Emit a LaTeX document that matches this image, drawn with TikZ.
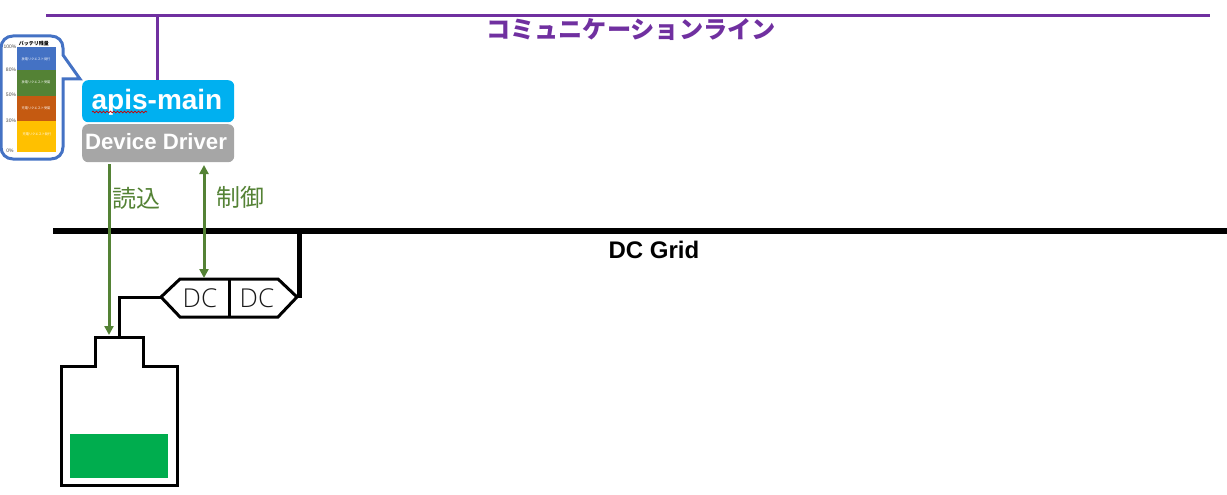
\documentclass[tikz,border=0pt]{standalone}
\usepackage{fontspec}
\setmainfont{Liberation Sans}
\newfontfamily\cjk{Noto Sans CJK JP}
\newfontfamily\thin{Open Sans Light}
\usetikzlibrary{arrows.meta,decorations.pathmorphing}
\definecolor{purp}{HTML}{7030A0}
\definecolor{grn}{HTML}{548235}
\definecolor{sky}{HTML}{00B0F0}
\definecolor{gry}{HTML}{A6A6A6}
\definecolor{bat}{HTML}{00AD4E}
\definecolor{callout}{HTML}{4472C4}
\definecolor{sorange}{HTML}{C55A11}
\definecolor{syellow}{HTML}{FFC000}
\tikzset{
  x=1pt,y=-1pt,
  wire/.style={draw=black,line width=3pt,line join=miter},
  sigline/.style={draw=grn,line width=3pt},
  bar/.style={fill=#1,draw=none},
  barlabel/.style={inner sep=0pt,text=white,font=\fontsize{3.2}{3.2}\selectfont\cjk},
  tick/.style={inner sep=0pt,text=black!70,font=\fontsize{5}{5}\selectfont},
  boxn/.style={draw=none,rounded corners=6pt,minimum width=152pt,inner sep=0pt,text=white,font=\bfseries},
  tip/.style={-{Triangle[width=9pt,length=9pt]}},
}
\begin{document}
\begin{tikzpicture}
\useasboundingbox (0,0) rectangle (1227,495);
% communication line
\coordinate (cl) at (46,15.5);
\coordinate (cr) at (1210,15.5);
\coordinate (cj) at (157,15.5);
\draw[draw=purp,line width=3pt] (cl) -- (cr);
\node[inner sep=0pt,text=purp,font=\fontsize{24.2}{24.2}\selectfont\cjk\bfseries] (clabel) at (631,29.5) {コミュニケーションライン};
% boxes
\node[boxn,fill=sky,minimum height=42pt,anchor=north west] (main) at (82,80) {};
\node[text=white,inner sep=0pt,font=\fontsize{28}{28}\selectfont\bfseries] (maint) at (157,102) {apis-main};
\node[boxn,fill=gry,minimum height=38pt,anchor=north west] (drv) at (82,124) {};
\node[text=white,inner sep=0pt,font=\fontsize{22.2}{22.2}\selectfont\bfseries] (drvt) at (156,142) {Device Driver};
\draw[draw=purp,line width=3pt] (cj) -- (main.north -| cj);
\draw[red!80!black,line width=0.7pt,decorate,decoration={snake,amplitude=0.9pt,segment length=3.5pt}] (92,112) -- (147,112);
% callout
\draw[draw=callout,line width=3pt,fill=white,line join=miter]
  (63,55) -- (80,79) -- (63,79) -- (63,147) .. controls (63,154) and (58,159) .. (51,159) -- (13,159) .. controls (6,159) and (1,154) .. (1,147) -- (1,48) .. controls (1,41) and (6,36) .. (13,36) -- (51,36) .. controls (58,36) and (63,41) .. (63,48) -- cycle;
\fill[bar=callout] (17,47) rectangle (56,70);
\fill[bar=grn] (17,70) rectangle (56,96);
\fill[bar=sorange] (17,96) rectangle (56,121);
\fill[bar=syellow] (17,121) rectangle (56,152);
\node[inner sep=0pt,font=\fontsize{5}{5}\selectfont\cjk\bfseries] (battitle) at (34,44) {バッテリ残量};
\node[barlabel] (b1) at (36,59) {放電リクエスト発行};
\node[barlabel] (b2) at (36,82) {放電リクエスト受諾};
\node[barlabel] (b3) at (36,108) {充電リクエスト受諾};
\node[barlabel] (b4) at (37,134) {充電リクエスト発行};
\node[tick] (t1) at (10,47) {100\%};
\node[tick] (t2) at (11,70) {80\%};
\node[tick] (t3) at (11,95) {50\%};
\node[tick] (t4) at (11,121) {30\%};
\node[tick] (t5) at (10,151) {0\%};
% DC grid
\coordinate (gl) at (53,231);
\coordinate (gr) at (1227,231);
\coordinate (gj) at (299,231);
\draw[draw=black,line width=6pt] (gl) -- (gr);
\node[inner sep=0pt,font=\fontsize{24}{24}\selectfont\bfseries] (gridlabel) at (654,250) {DC Grid};
% converter
\coordinate (hl) at (161,297);
\coordinate (hr) at (297,297);
\coordinate (hjr) at (299,298);
\draw[wire] (hl) -- (180,279) -- (278,279) -- (hr) -- (278,317) -- (180,317) -- cycle;
\draw[wire] (229,279) -- (229,317);
\node[inner sep=0pt,text=black!90,font=\fontsize{26}{26}\selectfont\thin] (dc1) at (200,298) {DC};
\node[inner sep=0pt,text=black!90,font=\fontsize{26}{26}\selectfont\thin] (dc2) at (257,298) {DC};
\draw[draw=black,line width=5pt] (gj) -- (hjr);
% battery
\coordinate (bt) at (119,337);
\draw[wire] (61,485) -- (61,366) -- (95,366) -- (95,337) -- (143,337) -- (143,366) -- (177.5,366) -- (177.5,485) -- cycle;
\draw[wire] (hl) -- (119,297) -- (bt);
\fill[bat] (70,434) rectangle (168,478);
% signals
\coordinate (r1) at (109,164);
\coordinate (r2) at (109,335);
\coordinate (c1) at (204,165);
\coordinate (c2) at (204,278);
\draw[sigline,tip] (r1) -- (r2);
\draw[sigline,{Triangle[width=9pt,length=9pt]}-{Triangle[width=9pt,length=9pt]}] (c1) -- (c2);
\node[inner sep=0pt,text=grn,font=\fontsize{24}{24}\selectfont\cjk] (rl) at (136,198) {読込};
\node[inner sep=0pt,text=grn,font=\fontsize{24}{24}\selectfont\cjk] (cl2) at (240,197) {制御};
\end{tikzpicture}
\end{document}
